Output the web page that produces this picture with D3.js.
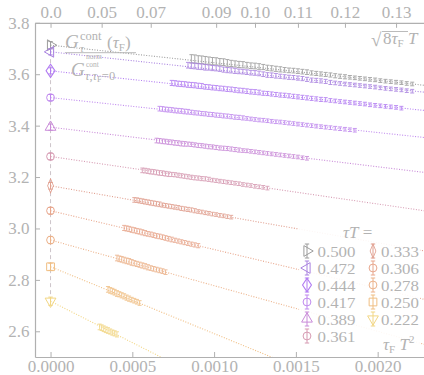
<!DOCTYPE html>
<html>
<head>
<meta charset="utf-8">
<script src="https://cdn.jsdelivr.net/npm/d3@7"></script>
<style>
    body { margin: 0; background: #fff; }
    svg { display: block; font-family: "Liberation Serif", serif; }
</style>
</head>
<body>
<svg id="chart" width="424" height="375"></svg>
<script>
const w = 424;
const h = 375;

// tau*T of each correlator, continuum value at tauF = 0 and slope of the dotted fit
const tauT = ["0.500", "0.472", "0.444", "0.417", "0.389", "0.361", "0.333", "0.306", "0.278", "0.250", "0.222"];
const contValue = [3.713, 3.687, 3.613, 3.509, 3.394, 3.280, 3.166, 3.069, 2.955, 2.851, 2.717];
const contErr = [0.014, 0.012, 0.012, 0.012, 0.012, 0.013, 0.013, 0.013, 0.014, 0.014, 0.016];
const fitSlope = [-68.3, -68.7, -67.4, -67.9, -77.0, -92.4, -110.8, -150.9, -177.5, -260, -322];

// flow times, given as sqrt(8 tauF) T
const flowGrid = [0.049, 0.050, 0.051, 0.052, 0.053, 0.054, 0.055, 0.056, 0.057, 0.058, 0.059, 0.060,
    0.061, 0.062, 0.063, 0.064, 0.065, 0.066, 0.067, 0.068, 0.069, 0.070, 0.071, 0.072, 0.073, 0.074,
    0.075, 0.076, 0.077, 0.078, 0.079, 0.080, 0.081, 0.082, 0.083, 0.084, 0.085, 0.086, 0.087, 0.088,
    0.089, 0.090, 0.091, 0.092, 0.093, 0.094, 0.095, 0.096, 0.097, 0.098, 0.099, 0.100, 0.101, 0.102,
    0.103, 0.104, 0.105, 0.106, 0.107, 0.108, 0.109, 0.110, 0.111, 0.112, 0.113, 0.114, 0.115, 0.116,
    0.117, 0.118, 0.119, 0.120, 0.121, 0.122, 0.123, 0.124, 0.125, 0.126, 0.127, 0.128, 0.129, 0.130,
    0.131, 0.132, 0.133];
const firstFlow = [0.083, 0.082, 0.077, 0.073, 0.072, 0.067, 0.064, 0.060, 0.057, 0.053, 0.049];

// lattice data per tauT (ratio), one value per flow time starting at firstFlow
const ratio500 = [3.660, 3.659, 3.657, 3.656, 3.654, 3.653, 3.651, 3.650, 3.648, 3.647,
    3.644, 3.642, 3.640, 3.638, 3.637, 3.635, 3.633, 3.632, 3.630, 3.628,
    3.625, 3.623, 3.621, 3.619, 3.617, 3.615, 3.614, 3.612, 3.610, 3.608,
    3.605, 3.603, 3.601, 3.599, 3.597,
    3.594, 3.592, 3.590, 3.588, 3.586, 3.584, 3.582, 3.580, 3.578, 3.575, 3.573, 3.571, 3.569, 3.567, 3.564, 3.562];
const ratio472 = [3.635, 3.633, 3.632, 3.630, 3.629, 3.627, 3.626, 3.624, 3.623, 3.621,
    3.618, 3.616, 3.615, 3.613, 3.611, 3.610, 3.608, 3.606, 3.605, 3.603,
    3.600, 3.597, 3.596, 3.594, 3.592, 3.590, 3.588, 3.587, 3.585, 3.583,
    3.580, 3.577, 3.576, 3.574, 3.572,
    3.568, 3.566, 3.564, 3.562, 3.560, 3.558, 3.556, 3.554, 3.552, 3.550, 3.547, 3.545, 3.543, 3.541, 3.539, 3.536, 3.534];
const ratio444 = [3.566, 3.565, 3.563, 3.562, 3.561, 3.559, 3.558, 3.557, 3.555, 3.554,
    3.551, 3.550, 3.548, 3.547, 3.545, 3.544, 3.542, 3.541, 3.539, 3.537, 3.536, 3.534, 3.532, 3.531, 3.529,
    3.526, 3.525, 3.523, 3.521, 3.519, 3.518, 3.516, 3.514, 3.512, 3.510, 3.508, 3.506, 3.504, 3.502, 3.501,
    3.498, 3.496, 3.494, 3.492, 3.490, 3.488, 3.486, 3.484, 3.481, 3.479, 3.477, 3.475, 3.473, 3.471, 3.468];
const ratio417 = [3.466, 3.465, 3.463, 3.462, 3.461, 3.459, 3.458, 3.457, 3.455, 3.454,
    3.452, 3.450, 3.449, 3.447, 3.446, 3.444, 3.443, 3.441, 3.440, 3.438, 3.437, 3.435, 3.433, 3.432, 3.430,
    3.428, 3.426, 3.424, 3.422, 3.421, 3.419, 3.417, 3.415, 3.414, 3.412, 3.410, 3.408, 3.406, 3.404, 3.402,
    3.400, 3.398, 3.396, 3.394, 3.392, 3.390, 3.388, 3.386, 3.384, 3.382];
const ratio389 = [3.342, 3.341, 3.339, 3.338, 3.336, 3.335, 3.333, 3.332, 3.330, 3.329,
    3.328, 3.327, 3.325, 3.323, 3.322, 3.320, 3.318, 3.317, 3.315, 3.313,
    3.312, 3.311, 3.309, 3.307, 3.305, 3.303, 3.302, 3.300, 3.298, 3.296, 3.294, 3.292, 3.290, 3.288,
    3.286, 3.284, 3.282, 3.280, 3.278, 3.275, 3.273];
const ratio361 = [3.226, 3.225, 3.223, 3.221, 3.220, 3.218, 3.216, 3.215, 3.213, 3.211,
    3.210, 3.209, 3.207, 3.205, 3.203, 3.201, 3.199, 3.197, 3.196, 3.194,
    3.193, 3.191, 3.188, 3.186, 3.184, 3.182, 3.180, 3.178, 3.176, 3.174, 3.171, 3.169, 3.167, 3.164,
    3.162, 3.160, 3.157];
const ratio333 = [3.111, 3.110, 3.108, 3.106, 3.104, 3.102, 3.100, 3.098, 3.096, 3.094,
    3.091, 3.089, 3.087, 3.085, 3.083, 3.081, 3.078, 3.076, 3.074, 3.072,
    3.069, 3.066, 3.064, 3.061, 3.059, 3.056, 3.054, 3.051, 3.049, 3.046, 3.044];
const ratio306 = [3.002, 3.000, 2.998, 2.995, 2.993, 2.990, 2.988, 2.985, 2.982, 2.979, 2.977, 2.974, 2.971,
    2.969, 2.966, 2.963, 2.960, 2.957, 2.954, 2.951, 2.948, 2.945, 2.942, 2.939, 2.936, 2.933];
const ratio278 = [2.885, 2.882, 2.880, 2.877, 2.874, 2.872, 2.868, 2.865, 2.862, 2.859, 2.856, 2.853, 2.849,
    2.846, 2.843, 2.840, 2.837, 2.834, 2.830];
const ratio250 = [2.763, 2.759, 2.756, 2.752, 2.747, 2.744, 2.740, 2.736, 2.731, 2.727, 2.723, 2.719, 2.715, 2.710];
const ratio222 = [2.617, 2.614, 2.610, 2.606, 2.603, 2.599, 2.595, 2.592, 2.588];

// half error bars, in units of 1e-3
const err500 = [16, 16, 15, 15, 15, 14, 14, 14, 13, 13, 13, 12, 12, 12, 12, 11, 11, 11, 11, 10, 10, 10, 10, 10, 9, 9,
    9, 9, 9, 9, 8, 8, 8, 8, 8, 8, 8, 8, 7, 7, 7, 7, 7, 7, 7, 7, 7, 7, 7, 7, 7];
const err472 = [11, 11, 11, 11, 11, 11, 10, 10, 10, 10, 10, 10, 10, 10, 9, 9, 9, 9, 9, 9, 9, 9, 9, 9, 8, 8, 8, 8, 8, 8,
    8, 8, 8, 8, 8, 8, 7, 7, 7, 7, 7, 7, 7, 7, 7, 7, 7, 7, 7, 7, 7, 7];
const err444 = [10, 10, 10, 10, 10, 10, 10, 10, 10, 10, 9, 9, 9, 9, 9, 9, 9, 9, 9, 9, 9, 9, 9, 9, 9, 8, 8, 8, 8, 8, 8,
    8, 8, 8, 8, 8, 8, 8, 8, 8, 7, 7, 7, 7, 7, 7, 7, 7, 7, 7, 7, 7, 7, 7, 7];
const err417 = [9, 9, 9, 9, 9, 9, 9, 9, 9, 9, 8, 8, 8, 8, 8, 8, 8, 8, 8, 8, 8, 8, 8, 8, 8, 7, 7, 7, 7, 7, 7, 7, 7, 7,
    7, 7, 7, 7, 7, 7, 7, 7, 7, 7, 7, 7, 7, 7, 7, 7];
const err389 = [9, 9, 9, 9, 9, 9, 9, 9, 9, 9, 8, 8, 8, 8, 8, 8, 8, 8, 8, 8, 8, 8, 8, 8, 8, 7, 7, 7, 7, 7, 7, 7, 7, 7,
    7, 7, 7, 7, 7, 7, 7];
const err361 = [9, 9, 9, 9, 9, 9, 9, 9, 9, 9, 8, 8, 8, 8, 8, 8, 8, 8, 8, 8, 8, 8, 7, 7, 7, 7, 7, 7, 7, 7, 7, 7, 7, 7,
    7, 7, 7];
const err333 = [9, 9, 9, 9, 9, 9, 9, 9, 9, 9, 8, 8, 8, 8, 8, 8, 8, 8, 8, 8, 8, 7, 7, 7, 7, 7, 7, 7, 7, 7, 7];
const err306 = [10, 10, 10, 10, 10, 10, 10, 10, 10, 9, 9, 9, 9, 9, 9, 9, 9, 9, 8, 8, 8, 8, 8, 8, 8, 8];
const err278 = [11, 11, 11, 11, 11, 11, 11, 10, 10, 10, 10, 10, 10, 9, 9, 9, 9, 9, 9];
const err250 = [11, 11, 11, 11, 11, 10, 10, 10, 10, 10, 9, 9, 9, 9];
const err222 = [11, 11, 11, 11, 11, 10, 10, 10, 10];

// axis ticks
const yTicks = [2.6, 2.8, 3.0, 3.2, 3.4, 3.6, 3.8];
const xTicks = [0, 0.0005, 0.001, 0.0015, 0.002];
const topTicks = [0, 0.05, 0.07, 0.09, 0.10, 0.11, 0.12, 0.13];
const topTickLabels = ["0.0", "0.05", "0.07", "0.09", "0.10", "0.11", "0.12", "0.13"];

const ratios = [ratio500, ratio472, ratio444, ratio417, ratio389, ratio361, ratio333, ratio306, ratio278, ratio250, ratio222];
const errs = [err500, err472, err444, err417, err389, err361, err333, err306, err278, err250, err222];

// styles
const colors = ["#9c9c9c", "#a982e0", "#b27cf2", "#bf88ee", "#c98ad8", "#d69ab2",
                "#e09e8e", "#e8a68c", "#ecb28a", "#f0be82", "#f2d683"];
const symbols = ["triR", "triL", "diamond", "circle", "triU", "circle",
                 "thinDiamond", "circle", "circle", "square", "triD"];
const textColor = "#b3b3b3";
const axisColor = "#b0b0b0";

const svg = d3.select("#chart");

const x = d3.scaleLinear().domain([-0.000095, 0.00232]).range([35, 430]);
const y = d3.scaleLinear().domain([2.5, 3.8]).range([357, 22.8]);
const sToX = s => s * s / 8;

svg.append("clipPath").attr("id", "plotclip")
    .append("rect").attr("x", 35).attr("y", 22.8).attr("width", 395).attr("height", 334.2);

const plot = svg.append("g").attr("clip-path", "url(#plotclip)");

//dashed line at tauF = 0
plot.append("line")
    .attr("x1", x(0)).attr("x2", x(0))
    .attr("y1", y(contValue[0])).attr("y2", y(contValue[contValue.length - 1]))
    .style("stroke", "#cdc5ca")
    .style("stroke-width", 1)
    .style("stroke-dasharray", "4,3");

//fit lines
plot.selectAll(".fit")
    .data(tauT)
    .enter()
    .append("line")
    .attr("class", "fit")
    .attr("x1", x(0))
    .attr("y1", (d, i) => y(contValue[i]))
    .attr("x2", x(0.00232))
    .attr("y2", (d, i) => y(contValue[i] + fitSlope[i] * 0.00232))
    .style("stroke", (d, i) => colors[i])
    .style("stroke-width", 1.1)
    .style("stroke-dasharray", "1,1.6");

//lattice data with error bars
tauT.forEach((t, i) => {
    const start = flowGrid.indexOf(firstFlow[i]);
    const pts = ratios[i].map((v, k) => ({
        x: sToX(flowGrid[start + k]),
        v: v,
        e: (errs[i][k] || errs[i][errs[i].length - 1]) / 1000
    }));
    const g = plot.append("g")
        .style("stroke", colors[i])
        .style("stroke-width", 1)
        .style("opacity", 0.85);
    const cell = g.selectAll("g").data(pts).enter().append("g");
    cell.append("line")
        .attr("x1", d => x(d.x)).attr("x2", d => x(d.x))
        .attr("y1", d => y(d.v - d.e)).attr("y2", d => y(d.v + d.e));
    cell.append("line")
        .attr("x1", d => x(d.x) - 2).attr("x2", d => x(d.x) + 2)
        .attr("y1", d => y(d.v + d.e)).attr("y2", d => y(d.v + d.e));
    cell.append("line")
        .attr("x1", d => x(d.x) - 2).attr("x2", d => x(d.x) + 2)
        .attr("y1", d => y(d.v - d.e)).attr("y2", d => y(d.v - d.e));
});

function symbolPath(type) {
    if (type === "circle") return d3.symbol(d3.symbolCircle, 48)();
    if (type === "square") return d3.symbol(d3.symbolSquare, 60)();
    if (type === "diamond" || type === "thinDiamond") return d3.symbol(d3.symbolDiamond, 52)();
    return d3.symbol(d3.symbolTriangle, 50)();
}

function symbolTransform(type, cx, cy) {
    let tr = "translate(" + cx + "," + cy + ")";
    if (type === "triR") tr += " rotate(90)";
    if (type === "triL") tr += " rotate(-90)";
    if (type === "triD") tr += " rotate(180)";
    if (type === "diamond") tr += " scale(1.15,1)";
    if (type === "thinDiamond") tr += " scale(0.75,1.05)";
    return tr;
}

// marker with its error bar; halfBar in px
function drawMarker(parent, i, cx, cy, halfBar) {
    const g = parent.append("g")
        .style("stroke", colors[i])
        .style("fill", "none")
        .style("stroke-width", 1);
    g.append("line").attr("x1", cx).attr("x2", cx).attr("y1", cy - halfBar).attr("y2", cy + halfBar);
    g.append("line").attr("x1", cx - 2.2).attr("x2", cx + 2.2).attr("y1", cy - halfBar).attr("y2", cy - halfBar);
    g.append("line").attr("x1", cx - 2.2).attr("x2", cx + 2.2).attr("y1", cy + halfBar).attr("y2", cy + halfBar);
    g.append("path")
        .attr("d", symbolPath(symbols[i]))
        .attr("transform", symbolTransform(symbols[i], cx, cy));
}

//continuum points
tauT.forEach((t, i) => {
    const cy = y(contValue[i]);
    drawMarker(plot, i, x(0), cy, y(contValue[i] - contErr[i]) - cy);
});

//axes
function styleAxis(g) {
    g.select(".domain").style("stroke", axisColor).style("stroke-width", 1.2);
    g.selectAll(".tick line").style("stroke", axisColor);
    g.selectAll("text")
        .style("fill", textColor)
        .style("font-family", "'Liberation Serif', serif")
        .style("font-size", "17px");
}

const leftAxis = d3.axisLeft(y).tickValues(yTicks).tickFormat(d3.format(".1f"))
    .tickSize(-5).tickSizeOuter(0).tickPadding(5.5);
svg.append("g").attr("transform", "translate(35,0)").call(leftAxis).call(styleAxis);

const bottomAxis = d3.axisBottom(x).tickValues(xTicks).tickFormat(d3.format(".4f"))
    .tickSize(-5).tickSizeOuter(0).tickPadding(3);
svg.append("g").attr("transform", "translate(0,357)").call(bottomAxis).call(styleAxis);

const topAxis = d3.axisTop(x).tickValues(topTicks.map(sToX))
    .tickFormat((d, i) => topTickLabels[i])
    .tickSize(-5).tickSizeOuter(0).tickPadding(4.5);
svg.append("g").attr("transform", "translate(0,22.8)").call(topAxis).call(styleAxis);

//legend
const legend = svg.append("g");
legend.append("rect")
    .attr("x", 299).attr("y", 221).attr("width", 121).attr("height", 125)
    .style("fill", "#fff").style("opacity", 0.9);

const ttl = legend.append("text").attr("x", 343).attr("y", 238)
    .style("fill", textColor).style("font-size", "17px");
ttl.append("tspan").style("font-style", "italic").text("τT");
ttl.append("tspan").text(" =");

tauT.forEach((t, i) => {
    const col = i < 6 ? 0 : 1;
    const row = i < 6 ? i : i - 6;
    const cx = col === 0 ? 307 : 373;
    const cy = 251 + row * 17;
    drawMarker(legend, i, cx, cy, 7);
    legend.append("text")
        .attr("x", col === 0 ? 317.5 : 381)
        .attr("y", cy + 5.5)
        .attr("textLength", 38)
        .attr("lengthAdjust", "spacingAndGlyphs")
        .style("fill", textColor)
        .style("font-size", "14.6px")
        .text(t);
});

//axis labels
const labels = svg.append("g").style("fill", textColor);

// tauF T^2
const bl = labels.append("text").attr("x", 383).attr("y", 350).style("font-size", "17px");
bl.append("tspan").style("font-style", "italic").text("τ");
bl.append("tspan").attr("dy", 3).style("font-size", "11px").text("F");
bl.append("tspan").attr("dy", -3).style("font-style", "italic").text(" T");
bl.append("tspan").attr("dy", -7).style("font-size", "11px").text("2");

// sqrt(8 tauF) T
const tl = labels.append("text").attr("x", 371).attr("y", 44).style("font-size", "17px");
tl.append("tspan").attr("dy", 2).style("font-size", "19px").text("√");
tl.append("tspan").attr("x", 383).attr("dy", -2).text("8");
tl.append("tspan").style("font-style", "italic").text("τ");
tl.append("tspan").attr("dy", 3).style("font-size", "11px").text("F");
tl.append("tspan").attr("dy", -3).style("font-style", "italic").text(" T");
labels.append("line").attr("x1", 382).attr("x2", 408).attr("y1", 31.5).attr("y2", 31.5)
    .style("stroke", textColor).style("stroke-width", 0.9);

// ratio label, numerator over denominator
labels.append("text").attr("x", 65).attr("y", 48).style("font-size", "19px").style("font-style", "italic").text("G");
labels.append("text").attr("x", 80).attr("y", 39.5).style("font-size", "12.5px").text("cont");
labels.append("text").attr("x", 80).attr("y", 52).style("font-size", "11px").style("font-style", "italic").text("τ");
const num = labels.append("text").attr("x", 107).attr("y", 48).style("font-size", "17px");
num.append("tspan").text("(");
num.append("tspan").style("font-style", "italic").text("τ");
num.append("tspan").attr("dy", 3).style("font-size", "11px").text("F");
num.append("tspan").attr("dy", -3).text(")");
labels.append("line").attr("x1", 65).attr("x2", 136).attr("y1", 52.7).attr("y2", 52.7)
    .style("stroke", textColor).style("stroke-width", 0.9);

labels.append("text").attr("x", 71).attr("y", 76).style("font-size", "19px").style("font-style", "italic").text("G");
labels.append("text").attr("x", 86).attr("y", 59).style("font-size", "7.5px").text("norm");
labels.append("text").attr("x", 86).attr("y", 67).style("font-size", "7.5px").text("cont");
const den = labels.append("text").attr("x", 85).attr("y", 79.5).style("font-size", "12.5px");
den.append("tspan").style("font-style", "italic").text("τ");
den.append("tspan").text(",");
den.append("tspan").style("font-style", "italic").text("τ");
den.append("tspan").attr("dy", 2).style("font-size", "8.5px").text("F");
den.append("tspan").attr("dy", -2).text("=0");
</script>
</body>
</html>
